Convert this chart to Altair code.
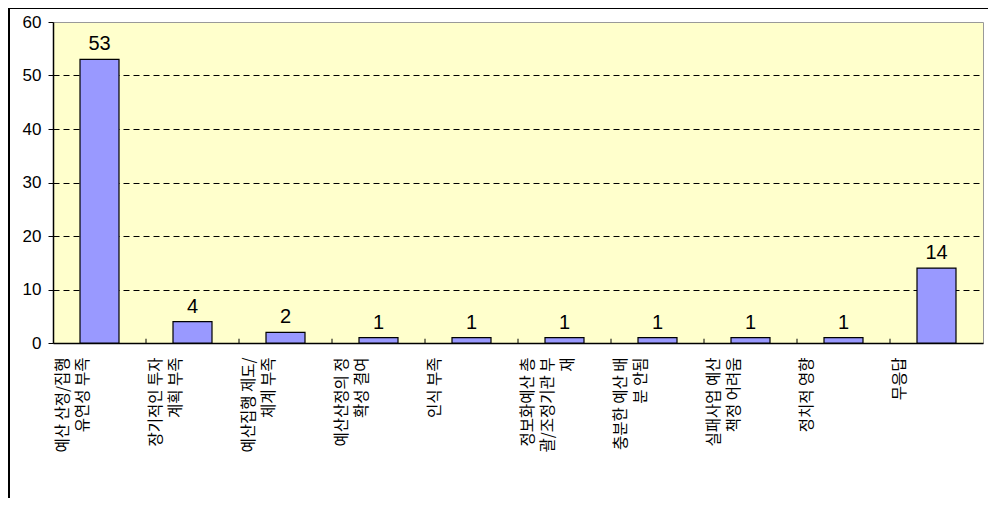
import altair as alt
import pandas as pd

categories = [
    "예산 산정/집행|유연성 부족",
    "장기적인 투자|계획 부족",
    "예산집행 제도/|체계 부족",
    "예산산정의 정|확성 결여",
    "인식 부족",
    "정보화예산 총|괄/조정기관 부|재",
    "충분한 예산 배|분 안됨",
    "실패사업 예산|책정 어려움",
    "정치적 영향",
    "무응답",
]
values = [53, 4, 2, 1, 1, 1, 1, 1, 1, 14]
y_ticks = [0, 10, 20, 30, 40, 50, 60]

df = pd.DataFrame({"cat": categories, "val": values})

NUM_FONT = "Liberation Sans"
KR_FONT = "Noto Sans CJK KR"

# multi-line labels, each line centred on the longest one (Excel style)
PADC = "\u3000"
s = "split(datum.label, '|')"
def line(i):
    return f"{s}[{i}]"
L2 = f"max(length({line(0)}), length({line(1)}))"
L3 = f"max(length({line(0)}), length({line(1)}), length({line(2)}))"
def padl(i, L):
    return f"pad({line(i)}, {L}, '{PADC}', 'center')"
label_expr = (
    f"length({s}) == 1 ? datum.label : "
    f"length({s}) == 2 ? [{padl(0, L2)}, {padl(1, L2)}] : "
    f"[{padl(0, L3)}, {padl(1, L3)}, {padl(2, L3)}]"
)

xenc = alt.X(
    "cat:N",
    sort=categories,
    scale=alt.Scale(paddingInner=0, paddingOuter=0),
    axis=alt.Axis(
        title=None,
        labelAngle=-90,
        labelAlign="right",
        labelBaseline="middle",
        labelExpr=label_expr,
        labelLineHeight=20,
        labelFont=KR_FONT,
        labelFontSize=15.5,
        labelColor="black",
        labelPadding=14,
        labelOffset=-37,
        ticks=False,
        domainColor="black",
        domainWidth=1.5,
        grid=False,
        labelLimit=300,
    ),
)

base = alt.Chart(df)

bars = base.mark_bar(
    width=39, fill="#9999FF", stroke="black", strokeWidth=1.2
).encode(
    x=xenc,
    y=alt.Y(
        "val:Q",
        scale=alt.Scale(domain=[0, 60], nice=False),
        axis=alt.Axis(
            title=None,
            values=y_ticks,
            labelFont=NUM_FONT,
            labelFontSize=17,
            labelColor="black",
            labelPadding=7,
            tickColor="black",
            tickSize=5,
            domainColor="black",
            domainWidth=1.5,
            grid=True,
            gridDash=[6, 4],
            gridColor={"condition": {"test": "datum.value === 60 || datum.value === 0", "value": "transparent"}, "value": "black"},
            gridWidth=1,
        ),
    ),
)

text = base.mark_text(
    baseline="bottom", dy=-5, font=NUM_FONT, fontSize=20, color="black"
).encode(
    x=alt.X("cat:N", sort=categories),
    y="val:Q",
    text="val:Q",
)

ticks = base.transform_filter(
    alt.datum.cat != categories[0]
).mark_rule(color="black", strokeWidth=1).encode(
    x=alt.X("cat:N", sort=categories, bandPosition=0),
    y=alt.datum(0),
    y2=alt.datum(0.8),
)

border = alt.Chart(pd.DataFrame({"a": [0]})).mark_rect(
    fillOpacity=0, stroke="black", strokeWidth=2, clip=False
).encode(
    x=alt.value(-44),
    x2=alt.value(1000),
    y=alt.value(-14),
    y2=alt.value(600),
)

chart = alt.layer(bars, ticks, text, border).properties(
    width=930,
    height=321,
    padding={"left": 45, "top": 14, "right": 5, "bottom": 155},
    autosize=alt.AutoSizeParams(type="none"),
).configure_view(
    fill="#FFFFCC", stroke="#999999", strokeWidth=1
)

chart.save("out.html", embed_options={"renderer": "svg", "actions": False})
